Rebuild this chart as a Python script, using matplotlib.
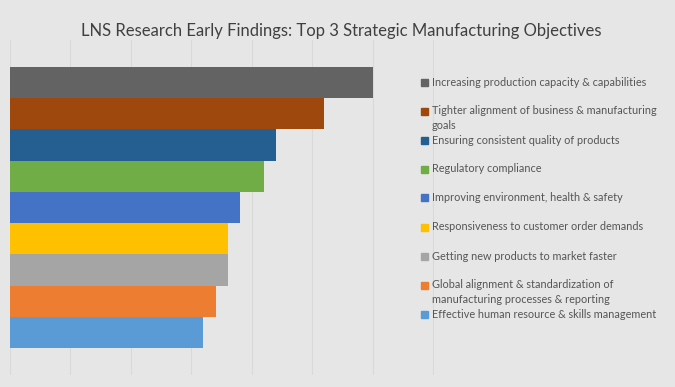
import matplotlib.pyplot as plt
from matplotlib.patches import Rectangle

# -- data ------------------------------------------------------------
objectives = [
    'Increasing production capacity & capabilities',
    'Tighter alignment of business & manufacturing\ngoals',
    'Ensuring consistent quality of products',
    'Regulatory compliance',
    'Improving environment, health & safety',
    'Responsiveness to customer order demands',
    'Getting new products to market faster',
    'Global alignment & standardization of\nmanufacturing processes & reporting',
    'Effective human resource & skills management',
]
percent = [60, 52, 44, 42, 38, 36, 36, 34, 32]
colors = ['#636363', '#9e480e', '#255e91', '#70ad47', '#4472c4',
          '#ffc000', '#a5a5a5', '#ed7d31', '#5b9bd5']

bg = '#e6e6e6'
W, H = 675, 387

fig = plt.figure(figsize=(6.75, 3.87), dpi=100, facecolor=bg)
ax = fig.add_axes([10 / W, 1 - 375 / H, 424 / W, 335 / H])
ax.set_facecolor(bg)

n = len(percent)
for i, (v, c) in enumerate(zip(percent, colors)):
    ax.barh(n - 1 - i, v, height=1.0, color=c, zorder=2)

ax.set_xlim(0, 70.15)
ax.set_ylim(-1.365, 9.365)
ax.set_xticks(range(0, 71, 10))
ax.grid(True, axis='x', color='#d9d9d9', linewidth=0.8, zorder=0)
ax.tick_params(left=False, bottom=False, labelleft=False, labelbottom=False)
for s in ax.spines.values():
    s.set_visible(False)

fig.text(341 / W, 1 - 31 / H,
         'LNS Research Early Findings: Top 3 Strategic Manufacturing Objectives',
         ha='center', va='center', fontsize=12, color='#404040', family='Lato')

# legend, one slot per objective
for i, (label, c) in enumerate(zip(objectives, colors)):
    y = 82 + 29 * i
    fig.patches.append(Rectangle((421 / W, 1 - (y + 3.5) / H), 7 / W, 7 / H,
                                 transform=fig.transFigure, color=c))
    fig.text(432 / W, 1 - (y - 5.5) / H, label, ha='left', va='top',
             fontsize=7.8, color='#555555', family='Lato', linespacing=1.35)

plt.savefig('out.png', dpi=100, facecolor=bg)
